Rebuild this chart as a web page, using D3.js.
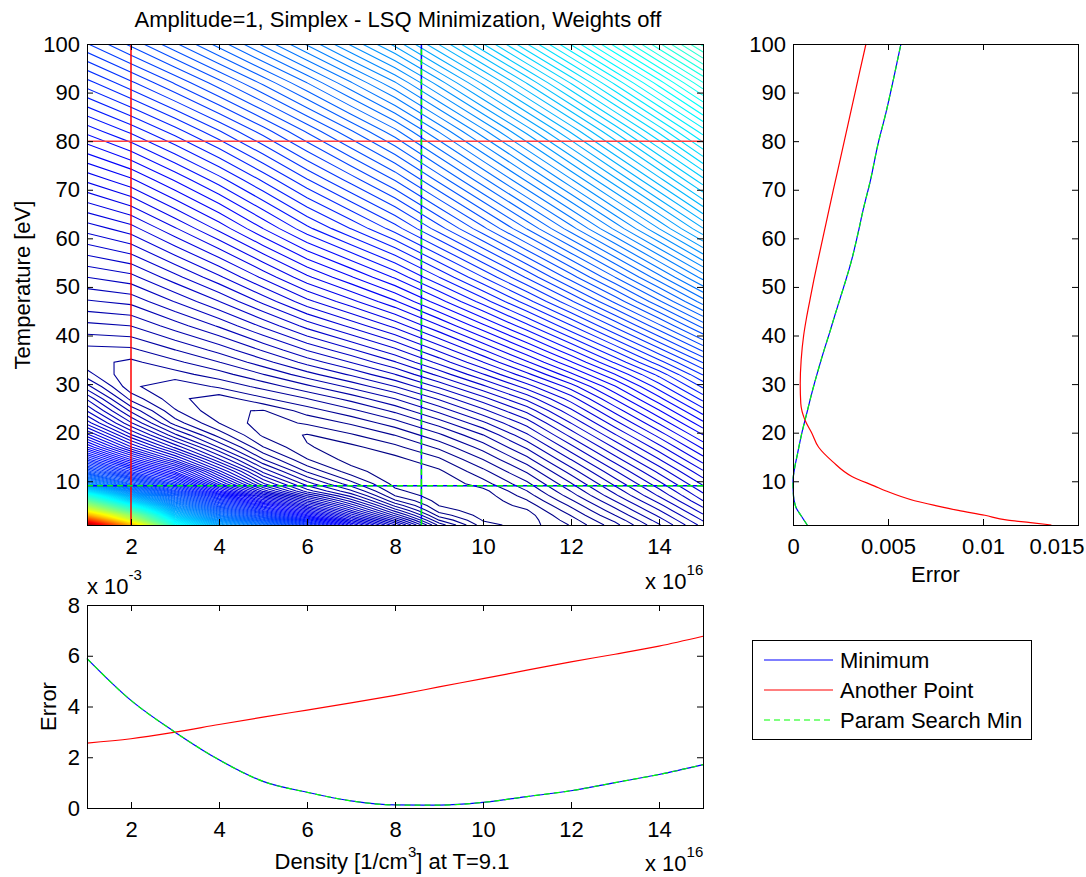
<!DOCTYPE html>
<html>
<head>
<meta charset="utf-8">
<script src="https://cdn.jsdelivr.net/npm/d3@7"></script>
<style>
  body { margin: 0; background: #fff; }
  text { font-family: "Liberation Sans", Arial, Helvetica, sans-serif; fill: #000; }
</style>
</head>
<body>
<svg id="fig" width="1086" height="877"></svg>
<script>
// LSQ error surface in contour-level units: rows = temperature, cols = density
const densityGrid = [1, 2, 3, 4, 5, 6, 7, 8, 9, 10, 11, 12, 13, 14, 15];
const tempGrid = [1, 2, 3, 4, 5, 6, 7, 8, 9.5, 12, 14.5, 17, 19.5, 22, 24.5, 27, 29.5, 32, 34.5, 37, 42, 47, 52, 62, 72, 82, 92, 102];
const errorGrid = [
  [160, 115, 65, 48, 39, 28.5, 19, 12, 4.8, 1.18, 0.43, 1.77, 3.94, 6.69, 9.71],
  [137, 96, 59, 43.5, 34, 24.5, 16, 9.6, 3.4, 0.77, 0.38, 2.15, 4.46, 7.26, 10.3],
  [117, 86, 53, 39, 29.5, 20.8, 13.4, 7.4, 2.2, 0.46, 0.447, 2.59, 5.1, 7.85, 10.9],
  [101, 74, 48, 35, 25.5, 17.5, 11.1, 5.6, 1.35, 0.27, 0.77, 3.06, 5.66, 8.44, 11.51],
  [89, 64, 43, 31, 22, 14.5, 9.1, 4.0, 0.83, 0.176, 1.18, 3.57, 6.24, 9.05, 12.13],
  [78, 54.5, 39, 27.5, 18.5, 11.8, 7.3, 2.7, 0.48, 0.2, 1.64, 4.1, 6.83, 9.66, 12.75],
  [68, 48, 35, 24, 15.5, 9.4, 5.7, 1.7, 0.25, 0.341, 2.1, 4.66, 7.43, 10.29, 13.28],
  [57, 42, 31, 20.5, 12.5, 7.2, 4.4, 1.07, 0.124, 0.568, 2.54, 5.14, 7.95, 10.81, 13.81],
  [44, 34, 26, 16.5, 9.5, 5.5, 2.88, 0.55, 0.145, 1.32, 3.19, 5.88, 8.74, 11.62, 14.63],
  [33, 25.5, 19.5, 12.2, 6.6, 3.3, 1.23, 0.21, 0.67, 2.28, 4.37, 7.17, 10.08, 12.99, 16.01],
  [26, 19.5, 14, 8.6, 4.3, 1.75, 0.48, 0.55, 1.54, 3.4, 5.64, 8.52, 11.47, 14.4, 17.44],
  [20.5, 14.6, 10, 5.9, 2.6, 0.9, 0.6, 1.45, 2.74, 4.63, 6.97, 9.91, 12.89, 15.84, 18.9],
  [16.5, 11.2, 7, 3.9, 1.55, 0.77, 1.57, 2.57, 4.06, 5.92, 8.34, 11.33, 14.34, 17.3, 20.37],
  [13.2, 8.6, 4.7, 2.55, 1.23, 1.83, 2.69, 3.87, 5.5, 7.45, 9.73, 12.77, 15.81, 18.8, 21.88],
  [11, 6.6, 3.5, 1.88, 1.63, 2.95, 4.0, 5.31, 7.05, 9.08, 11.31, 14.24, 17.3, 20.31, 23.41],
  [9.2, 4.8, 2.8, 2.04, 3.24, 4.23, 5.41, 6.8, 8.63, 10.72, 13.01, 15.72, 18.8, 21.83, 24.96],
  [7.1, 3.6, 2.71, 3.56, 4.54, 5.74, 7.02, 8.49, 10.39, 12.54, 14.87, 17.42, 20.33, 23.38, 26.54],
  [5.4, 3.53, 3.9, 4.71, 5.93, 7.31, 8.66, 10.19, 12.17, 14.38, 16.76, 19.33, 22.07, 24.94, 28.13],
  [4.6, 4.03, 4.88, 5.92, 7.29, 8.81, 10.23, 11.82, 13.87, 16.13, 18.55, 21.15, 23.93, 26.82, 29.82],
  [4.8, 4.9, 5.93, 7.1, 8.6, 10.25, 11.73, 13.38, 15.48, 17.79, 20.25, 22.89, 25.68, 28.61, 31.64],
  [6.56, 6.81, 8.08, 9.48, 11.23, 13.08, 14.69, 16.43, 18.64, 21.04, 23.57, 26.28, 29.13, 32.1, 35.19],
  [8.39, 8.75, 10.25, 11.88, 13.83, 15.87, 17.57, 19.42, 21.72, 24.2, 26.82, 29.6, 32.5, 35.53, 38.68],
  [10.2, 10.75, 12.43, 14.25, 16.34, 18.5, 20.3, 22.22, 24.64, 27.19, 29.88, 32.73, 35.69, 38.79, 41.99],
  [13.95, 14.93, 16.89, 18.95, 21.24, 23.54, 25.52, 27.62, 30.2, 32.91, 35.75, 38.73, 41.84, 45.05, 48.39],
  [18.04, 19.36, 21.34, 23.41, 25.65, 27.95, 30.11, 32.35, 35.1, 37.97, 40.96, 44.07, 47.31, 50.66, 54.12],
  [22.37, 23.99, 25.91, 27.95, 30.13, 32.41, 34.72, 37.12, 40.02, 43.05, 46.18, 49.44, 52.82, 56.31, 59.91],
  [26.86, 28.71, 30.7, 32.81, 35.05, 37.39, 39.86, 42.4, 45.46, 48.64, 51.92, 55.33, 58.85, 62.47, 66.22],
  [31.46, 33.52, 35.7, 37.98, 40.39, 42.9, 45.51, 48.2, 51.42, 54.74, 58.18, 61.72, 65.39, 69.17, 73.04],
];
const levelStep = 0.85;
const levelMax = 167;

const minPoint = { n: 8.6, T: 9.1 };
const otherPoint = { n: 2, T: 80 };

// error vs temperature (right panel)
const minCurveT = [1, 3, 4.5, 6, 8, 10, 12.6, 15.5, 20, 23.6, 28, 32.4, 36.8, 40.5, 44, 50, 55, 61, 66, 72, 79, 86, 93, 100];
const minCurveErr = [0.00075, 0.00041, 0.00017, 0.00006, 0.00001, 0.0, 0.00008, 0.00023, 0.00047, 0.0007, 0.00098, 0.00129, 0.00162, 0.00192, 0.00219, 0.00267, 0.00305, 0.00342, 0.0037, 0.00408, 0.00445, 0.0049, 0.0053, 0.00568];
const otherCurveT = [1, 1.5, 2, 3, 4, 5, 6, 8, 9, 11, 14, 17, 20, 22.5, 26, 30, 35, 40, 43.4, 47.1, 51.5, 55.2, 63.3, 69.9, 76.5, 84.6, 89.7, 94.1, 100];
const otherCurveErr = [0.0136, 0.0125, 0.0113, 0.0101, 0.0087, 0.0075, 0.0064, 0.0049, 0.0043, 0.0031, 0.0021, 0.00135, 0.00098, 0.00064, 0.00041, 0.00038, 0.00043, 0.00056, 0.0007, 0.00088, 0.0011, 0.0013, 0.00175, 0.00212, 0.0025, 0.00296, 0.00325, 0.0035, 0.00384];

// error vs density at T=9.1 (bottom panel), values x 1e-3
const densityCurveN = [1, 2, 3, 4, 5, 6, 7, 8, 9, 10, 11, 12, 13, 14, 15];
const minCurveErrN = [5.89, 4.24, 2.99, 1.9, 1.05, 0.62, 0.28, 0.12, 0.11, 0.22, 0.45, 0.68, 1.0, 1.32, 1.71];
const otherCurveErrN = [2.56, 2.73, 2.99, 3.29, 3.58, 3.86, 4.14, 4.44, 4.77, 5.1, 5.43, 5.76, 6.06, 6.38, 6.77];

const legendLabels = ["Minimum", "Another Point", "Param Search Min"];

const svg = d3.select("#fig");
const FONT = "Liberation Sans, Arial, Helvetica, sans-serif";

const xMain = d3.scaleLinear().domain([1, 15]).range([87, 703]);
const yMain = d3.scaleLinear().domain([1, 100]).range([525, 44]);
const xRight = d3.scaleLinear().domain([0, 0.015]).range([793, 1078]);
const xBottom = d3.scaleLinear().domain([1, 15]).range([87, 703]);
const yBottom = d3.scaleLinear().domain([0, 0.008]).range([808, 605]);

const jet = d3.scaleLinear()
  .domain([0, 0.125, 0.375, 0.625, 0.875, 1])
  .range(["#00007f", "#0000ff", "#00ffff", "#ffff00", "#ff0000", "#7f0000"])
  .clamp(true);

// ---------- contour panel ----------
svg.append("clipPath").attr("id", "clipMain")
  .append("rect").attr("x", 87).attr("y", 44).attr("width", 616).attr("height", 481);

const idxToN = d3.scaleLinear().domain(d3.range(densityGrid.length)).range(densityGrid);
const idxToT = d3.scaleLinear().domain(d3.range(tempGrid.length)).range(tempGrid);
function toData(p) {
  const i = Math.max(0, Math.min(densityGrid.length - 1, p[0] - 0.5));
  const j = Math.max(0, Math.min(tempGrid.length - 1, p[1] - 0.5));
  return [idxToN(i), idxToT(j)];
}
const nLo = densityGrid[0], nHi = densityGrid[densityGrid.length - 1];
const tLo = tempGrid[0], tHi = tempGrid[tempGrid.length - 1];
function onEdge(a, b) {
  const eq = (u, v) => Math.abs(u - v) < 1e-9;
  return (eq(a[0], nLo) && eq(b[0], nLo)) || (eq(a[0], nHi) && eq(b[0], nHi)) ||
    (eq(a[1], tLo) && eq(b[1], tLo)) || (eq(a[1], tHi) && eq(b[1], tHi));
}
const contourLine = d3.line().x((d) => xMain(d[0])).y((d) => yMain(d[1]));

const contours = d3.contours()
  .size([densityGrid.length, tempGrid.length])
  .thresholds(d3.range(levelStep, levelMax, levelStep))(errorGrid.flat());

const gContour = svg.append("g").attr("clip-path", "url(#clipMain)");
contours.forEach((c) => {
  let d = "";
  c.coordinates.forEach((poly) => poly.forEach((ring) => {
    const pts = ring.map(toData);
    let run = [];
    for (let k = 0; k < pts.length - 1; k++) {
      if (onEdge(pts[k], pts[k + 1])) {
        if (run.length > 1) d += contourLine(run);
        run = [];
        continue;
      }
      if (!run.length) run.push(pts[k]);
      run.push(pts[k + 1]);
    }
    if (run.length > 1) d += contourLine(run);
  }));
  if (d) {
    gContour.append("path").attr("d", d).attr("fill", "none")
      .attr("stroke", jet(c.value / levelMax)).attr("stroke-width", 1.1);
  }
});

// marker lines through the two points
function vline(x, n, y, color, dash) {
  svg.append("line").attr("x1", x(n)).attr("x2", x(n))
    .attr("y1", y.range()[0]).attr("y2", y.range()[1])
    .attr("stroke", color).attr("stroke-width", 1.5).attr("stroke-dasharray", dash || null);
}
function hline(x, y, T, color, dash) {
  svg.append("line").attr("x1", x.range()[0]).attr("x2", x.range()[1]).attr("y1", y(T)).attr("y2", y(T))
    .attr("stroke", color).attr("stroke-width", 1.5).attr("stroke-dasharray", dash || null);
}
vline(xMain, otherPoint.n, yMain, "#ff0000");
hline(xMain, yMain, otherPoint.T, "#ff4040");
vline(xMain, minPoint.n, yMain, "#0000ff");
hline(xMain, yMain, minPoint.T, "#0000ff");
vline(xMain, minPoint.n, yMain, "#00ff00", "6,4");
hline(xMain, yMain, minPoint.T, "#00ff00", "6,4");

// ---------- axes helper ----------
function drawAxes(x, y, xTicks, yTicks, xFmt, yFmt) {
  const [x0, x1] = x.range();
  const [y0, y1] = y.range();
  const g = svg.append("g");
  g.append("g").attr("class", "xb").attr("transform", "translate(0," + y0 + ")")
    .call(d3.axisBottom(x).tickValues(xTicks).tickFormat(xFmt).tickSizeInner(-6).tickSizeOuter(0).tickPadding(13));
  g.append("g").attr("transform", "translate(0," + y1 + ")")
    .call(d3.axisTop(x).tickValues(xTicks).tickFormat("").tickSizeInner(-6).tickSizeOuter(0));
  g.append("g").attr("transform", "translate(" + x0 + ",0)")
    .call(d3.axisLeft(y).tickValues(yTicks).tickFormat(yFmt).tickSizeInner(-6).tickSizeOuter(0).tickPadding(7));
  g.append("g").attr("transform", "translate(" + x1 + ",0)")
    .call(d3.axisRight(y).tickValues(yTicks).tickFormat("").tickSizeInner(-6).tickSizeOuter(0));
  g.selectAll(".domain").remove();
  g.selectAll("g").attr("font-size", 22).attr("font-family", FONT);
  g.selectAll(".tick line").attr("stroke", "#000");
  g.selectAll(".tick text").attr("fill", "#000");
  g.append("rect").attr("x", x0 + 0.5).attr("y", y1 + 0.5)
    .attr("width", x1 - x0).attr("height", y0 - y1)
    .attr("fill", "none").attr("stroke", "#000").attr("stroke-width", 1);
  return g;
}

drawAxes(xMain, yMain, d3.range(2, 15, 2), d3.range(10, 101, 10), d3.format("d"), d3.format("d"));

svg.append("text").attr("x", 398).attr("y", 27).attr("text-anchor", "middle").attr("font-size", 22)
  .text("Amplitude=1, Simplex - LSQ Minimization, Weights off");
svg.append("text").attr("transform", "translate(30,285) rotate(-90)").attr("text-anchor", "middle")
  .attr("font-size", 22).text("Temperature [eV]");

function expLabel(x, y, base, sup) {
  const t = svg.append("text").attr("x", x).attr("y", y).attr("font-size", 22);
  t.append("tspan").text(base);
  t.append("tspan").attr("font-size", 15).attr("dy", -14).text(sup);
}
expLabel(645, 589, "x 10", "16");

// ---------- right panel ----------
const lineTE = d3.line().curve(d3.curveMonotoneY).x((d) => xRight(d[1])).y((d) => yMain(d[0]));
svg.append("path").attr("d", lineTE(d3.zip(minCurveT, minCurveErr)))
  .attr("fill", "none").attr("stroke", "#0000ff").attr("stroke-width", 1.2);
svg.append("path").attr("d", lineTE(d3.zip(otherCurveT, otherCurveErr)))
  .attr("fill", "none").attr("stroke", "#ff0000").attr("stroke-width", 1.2);
svg.append("path").attr("d", lineTE(d3.zip(minCurveT, minCurveErr)))
  .attr("fill", "none").attr("stroke", "#00ff00").attr("stroke-width", 1.2).attr("stroke-dasharray", "6,4");

const gR = drawAxes(xRight, yMain, [0, 0.005, 0.01, 0.015], d3.range(10, 101, 10),
  (d) => (d === 0 ? "0" : String(d)), d3.format("d"));
gR.selectAll(".xb .tick text").filter((d) => d === 0.015).attr("text-anchor", "end").attr("x", 6);
svg.append("text").attr("x", 935.5).attr("y", 582).attr("text-anchor", "middle").attr("font-size", 22).text("Error");

// ---------- bottom panel ----------
const lineNE = d3.line().curve(d3.curveMonotoneX).x((d) => xBottom(d[0])).y((d) => yBottom(d[1] / 1000));
svg.append("path").attr("d", lineNE(d3.zip(densityCurveN, minCurveErrN)))
  .attr("fill", "none").attr("stroke", "#0000ff").attr("stroke-width", 1.2);
svg.append("path").attr("d", lineNE(d3.zip(densityCurveN, otherCurveErrN)))
  .attr("fill", "none").attr("stroke", "#ff0000").attr("stroke-width", 1.2);
svg.append("path").attr("d", lineNE(d3.zip(densityCurveN, minCurveErrN)))
  .attr("fill", "none").attr("stroke", "#00ff00").attr("stroke-width", 1.2).attr("stroke-dasharray", "6,4");

drawAxes(xBottom, yBottom, d3.range(2, 15, 2), [0, 0.002, 0.004, 0.006, 0.008], d3.format("d"), (d) => d3.format("d")(d * 1000));
expLabel(87, 594, "x 10", "-3");
expLabel(645, 871, "x 10", "16");
svg.append("text").attr("transform", "translate(56,706.5) rotate(-90)").attr("text-anchor", "middle")
  .attr("font-size", 22).text("Error");
const xl = svg.append("text").attr("x", 392).attr("y", 869).attr("text-anchor", "middle").attr("font-size", 22);
xl.append("tspan").text("Density [1/cm");
xl.append("tspan").attr("font-size", 15).attr("dy", -12).text("3");
xl.append("tspan").attr("dy", 12).text("] at T=9.1");

// ---------- legend ----------
const gLeg = svg.append("g");
gLeg.append("rect").attr("x", 752.5).attr("y", 640.5).attr("width", 279).attr("height", 99)
  .attr("fill", "#fff").attr("stroke", "#000").attr("stroke-width", 1);
const legendStyles = [
  { color: "#0000ff", dash: null },
  { color: "#ff0000", dash: null },
  { color: "#00ff00", dash: "6,4" },
];
legendLabels.forEach((label, i) => {
  const yy = 660 + i * 30;
  gLeg.append("line").attr("x1", 764).attr("x2", 833).attr("y1", yy).attr("y2", yy)
    .attr("stroke", legendStyles[i].color).attr("stroke-width", 1.2).attr("stroke-dasharray", legendStyles[i].dash);
  gLeg.append("text").attr("x", 840).attr("y", yy).attr("dy", "0.36em").attr("font-size", 22).text(label);
});
</script>
</body>
</html>
